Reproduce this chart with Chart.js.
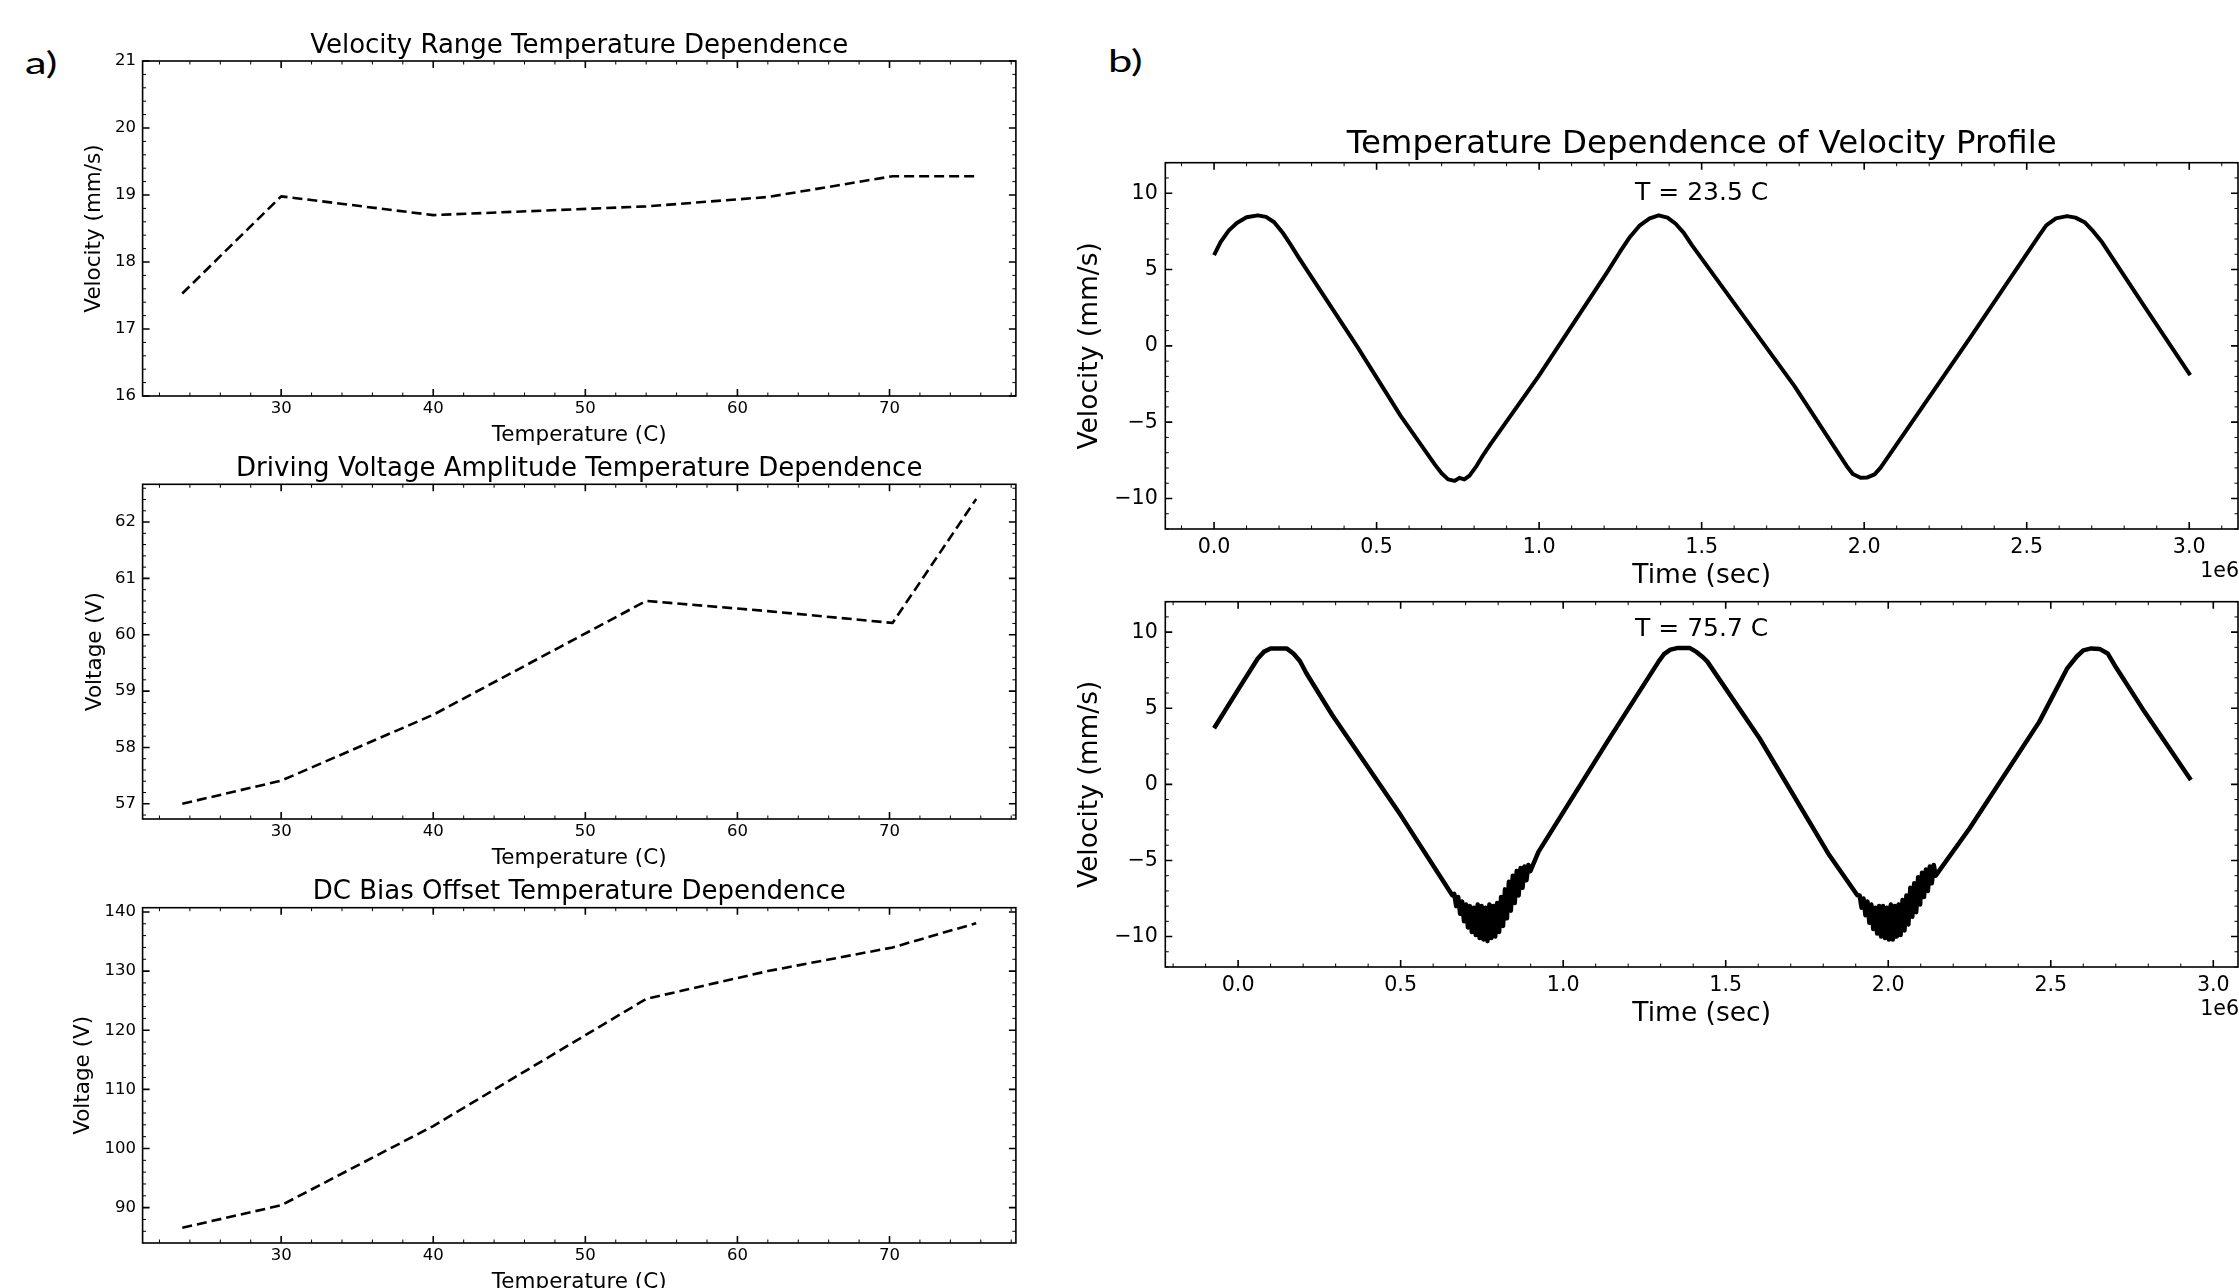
<!DOCTYPE html>
<html>
<head>
<meta charset="utf-8">
<script src="https://cdn.jsdelivr.net/npm/chart.js@4.4.1/dist/chart.umd.min.js"></script>
<style>
html, body { margin: 0; padding: 0; background: #fff; }
body { width: 2239px; height: 1288px; overflow: hidden; position: relative; }
canvas { position: absolute; }
.panel { position: absolute; font-family: Lato, 'Open Sans', sans-serif; font-size: 31px; line-height: 1; color: #000; transform: scaleX(1.4); transform-origin: left top; }
</style>
</head>
<body>
<div class="panel" style="left:25px; top:47px;">a)</div>
<div class="panel" style="left:1108px; top:45px;">b)</div>
<canvas id="c1"></canvas>
<canvas id="c2"></canvas>
<canvas id="c3"></canvas>
<canvas id="r1"></canvas>
<canvas id="r2"></canvas>
<script>
// ---------------- data ----------------
const temperatures   = [23.5, 30, 40, 54, 62, 70.2, 75.7];
const velocityRange  = [17.53, 18.98, 18.70, 18.83, 18.97, 19.28, 19.28];
const drivingVoltage = [57.00, 57.41, 58.58, 60.60, 60.42, 60.21, 62.41];
const dcBiasOffset   = [86.6, 90.4, 103.8, 125.3, 130.0, 134.0, 138.1];

const tempTicks     = [30, 40, 50, 60, 70];
const velRangeTicks = [16, 17, 18, 19, 20, 21];
const drvTicks      = [57, 58, 59, 60, 61, 62];
const dcTicks       = [90, 100, 110, 120, 130, 140];
const timeTicks     = [0, 0.5, 1.0, 1.5, 2.0, 2.5, 3.0];
const profileTicks  = [-10, -5, 0, 5, 10];

// velocity profile at T = 23.5 C (time in units of 1e6)
const time235 = [0.000, 0.020, 0.045, 0.070, 0.100, 0.135, 0.160, 0.185, 0.210, 0.235,
  0.260, 0.439, 0.574, 0.680, 0.700, 0.720, 0.740, 0.755, 0.770, 0.786,
  0.805, 0.825, 0.850, 0.998, 1.209, 1.250, 1.280, 1.310, 1.340, 1.368,
  1.395, 1.420, 1.445, 1.470, 1.785, 1.946, 1.965, 1.989, 2.010, 2.032,
  2.050, 2.075, 2.323, 2.538, 2.560, 2.590, 2.624, 2.650, 2.678, 2.705,
  2.732, 2.861, 3.003];
const vel235 = [5.95, 6.80, 7.55, 8.05, 8.42, 8.55, 8.45, 8.10, 7.45, 6.65,
  5.80, 0.00, -4.59, -7.80, -8.35, -8.75, -8.85, -8.65, -8.75, -8.50,
  -7.95, -7.25, -6.45, -2.00, 4.82, 6.20, 7.15, 7.90, 8.35, 8.55,
  8.40, 8.00, 7.40, 6.60, -2.62, -7.87, -8.40, -8.64, -8.62, -8.42,
  -8.00, -7.22, 0.44, 7.22, 7.90, 8.35, 8.50, 8.40, 8.10, 7.50,
  6.78, 2.62, -1.92];

// velocity profile at T = 75.7 C (time in units of 1e6), noisy near the minima
const time757 = [
  -0.074, 0.003, 0.060, 0.080, 0.100, 0.150, 0.170, 0.190, 0.210, 0.289, 0.500, 0.659,
  0.665, 0.671, 0.677, 0.683, 0.689, 0.695, 0.701, 0.707, 0.713, 0.719,
  0.725, 0.731, 0.737, 0.743, 0.749, 0.755, 0.761, 0.767, 0.773, 0.779,
  0.785, 0.791, 0.797, 0.803, 0.809, 0.815, 0.821, 0.827, 0.833, 0.839,
  0.845, 0.851, 0.857, 0.863, 0.869, 0.875, 0.881, 0.887, 0.893, 0.899,
  0.924, 1.136, 1.294, 1.310, 1.330, 1.350, 1.390, 1.410, 1.430, 1.443, 1.604, 1.819, 1.905,
  1.912, 1.918, 1.924, 1.930, 1.936, 1.942, 1.948, 1.954, 1.960, 1.966,
  1.972, 1.978, 1.984, 1.990, 1.996, 2.002, 2.008, 2.014, 2.020, 2.026,
  2.032, 2.038, 2.044, 2.050, 2.056, 2.062, 2.068, 2.074, 2.080, 2.086,
  2.092, 2.098, 2.104, 2.110, 2.116, 2.122, 2.128, 2.134, 2.140, 2.146,
  2.250, 2.465, 2.550, 2.580, 2.600, 2.625, 2.650, 2.675, 2.702, 2.788, 2.931];
const vel757 = [
  3.69, 6.32, 8.25, 8.72, 8.92, 8.92, 8.60, 8.10, 7.30, 4.57, -2.02, -7.29,
  -7.2, -8.0, -7.4, -8.5, -7.7, -9.0, -7.9, -9.4, -8.0, -9.7,
  -8.1, -9.9, -7.9, -10.1, -8.0, -10.2, -8.1, -10.3, -7.9, -10.1,
  -8.0, -10.0, -7.8, -9.7, -7.4, -9.3, -6.9, -8.8, -6.4, -8.3,
  -6.0, -7.8, -5.7, -7.3, -5.5, -6.8, -5.4, -6.3, -5.3, -5.7,
  -4.44, 2.81, 8.08, 8.55, 8.85, 8.95, 8.95, 8.70, 8.35, 8.08, 3.03, -4.66, -7.29,
  -7.3, -8.1, -7.5, -8.6, -7.7, -9.1, -7.9, -9.5, -8.1, -9.8,
  -8.0, -10.0, -8.0, -10.1, -8.1, -10.2, -7.9, -10.2, -8.0, -10.0,
  -7.9, -9.9, -7.6, -9.6, -7.3, -9.2, -6.8, -8.7, -6.5, -8.4,
  -6.1, -7.9, -5.8, -7.4, -5.6, -7.0, -5.4, -6.5, -5.3, -6.0,
  -2.90, 4.12, 7.60, 8.40, 8.80, 8.93, 8.90, 8.60, 7.64, 4.78, 0.28];

// ---------------- rendering ----------------
Chart.defaults.font.family = "'DejaVu Sans', sans-serif";
Chart.defaults.color = '#000';

const framePlugin = {
  id: 'frame',
  afterDraw(chart, args, opts) {
    const { ctx, chartArea: a, scales } = chart;
    const xs = scales.x, ys = scales.y;
    ctx.save();
    ctx.strokeStyle = '#000';
    const tickX = (v, len, w) => {
      const p = xs.getPixelForValue(v);
      if (p < a.left - 0.5 || p > a.right + 0.5) return;
      ctx.lineWidth = w; ctx.beginPath();
      ctx.moveTo(p, a.bottom); ctx.lineTo(p, a.bottom - len);
      ctx.moveTo(p, a.top); ctx.lineTo(p, a.top + len);
      ctx.stroke();
    };
    const tickY = (v, len, w) => {
      const p = ys.getPixelForValue(v);
      if (p < a.top - 0.5 || p > a.bottom + 0.5) return;
      ctx.lineWidth = w; ctx.beginPath();
      ctx.moveTo(a.left, p); ctx.lineTo(a.left + len, p);
      ctx.moveTo(a.right, p); ctx.lineTo(a.right - len, p);
      ctx.stroke();
    };
    const minorLoop = (scale, fn) => {
      const maj = scale.ticks.map(t => t.value);
      const step = (maj[1] - maj[0]) / 5;
      for (let k = Math.ceil(scale.min / step - 1e-9); k * step <= scale.max + 1e-9; k++) {
        const v = k * step;
        if (maj.some(m => Math.abs(m - v) < step * 0.01)) continue;
        fn(v, opts.minorLen, opts.minorW);
      }
      maj.forEach(v => fn(v, opts.majorLen, opts.majorW));
    };
    minorLoop(xs, tickX);
    minorLoop(ys, tickY);
    ctx.lineWidth = opts.frameW;
    ctx.strokeRect(a.left, a.top, a.right - a.left, a.bottom - a.top);
    (opts.texts || []).forEach(t => {
      ctx.font = t.size + "px 'DejaVu Sans', sans-serif";
      ctx.fillStyle = '#000';
      ctx.textAlign = t.align;
      ctx.textBaseline = t.baseline;
      const x = t.align === 'right' ? a.right + (t.dx || 0) : (a.left + a.right) / 2;
      const y = (t.at === 'top' ? a.top : a.bottom) + t.dy;
      ctx.fillText(t.text, x, y);
    });
    ctx.restore();
  }
};

function makeChart(id, box, o) {
  const cv = document.getElementById(id);
  cv.width = box.w; cv.height = box.h;
  cv.style.left = box.x + 'px'; cv.style.top = box.y + 'px';
  cv.style.width = box.w + 'px'; cv.style.height = box.h + 'px';
  const tickList = arr => (s => { s.ticks = arr.map(v => ({ value: v })); });
  return new Chart(cv, {
    type: 'line',
    data: { datasets: [{ data: o.points, borderColor: '#000', borderWidth: o.lw, borderDash: o.dash, pointRadius: 0, tension: 0, fill: false, borderJoinStyle: 'round' }] },
    options: {
      responsive: false, animation: false, devicePixelRatio: 1,
      layout: { padding: { left: 0, top: o.padTop, right: o.padRight, bottom: 0 } },
      plugins: {
        legend: { display: false }, tooltip: { enabled: false },
        frame: { majorLen: 7, minorLen: 3.5, majorW: 1.6, minorW: 1, frameW: 1.6, texts: o.texts }
      },
      scales: {
        x: {
          type: 'linear', position: 'bottom', min: o.xMin, max: o.xMax,
          afterBuildTicks: tickList(o.xTicks), afterFit: s => { s.height = o.xAxisH; },
          ticks: { font: { size: o.tickSize, lineHeight: 1.2 }, padding: o.xTickPad, callback: o.xFmt, maxRotation: 0, autoSkip: false },
          grid: { display: true, drawOnChartArea: false, drawTicks: false },
          border: { display: false },
          title: { display: true, text: o.xTitle, font: { size: o.labelSize, lineHeight: 1.2 }, padding: { top: 0, bottom: o.xTitlePad } }
        },
        y: {
          type: 'linear', position: 'left', min: o.yMin, max: o.yMax,
          afterBuildTicks: tickList(o.yTicks), afterFit: s => { s.width = o.yAxisW; },
          ticks: { font: { size: o.tickSize, lineHeight: 1.2 }, padding: o.yTickPad, callback: o.yFmt, autoSkip: false },
          grid: { display: true, drawOnChartArea: false, drawTicks: false },
          border: { display: false },
          title: { display: true, text: o.yTitle, font: { size: o.labelSize, lineHeight: 1.2 }, padding: { top: o.yTitlePad, bottom: 0 } }
        }
      }
    },
    plugins: [framePlugin]
  });
}

const pts = (xs, ys) => xs.map((x, i) => ({ x: x, y: ys[i] }));
const intFmt = v => String(v);
const oneDec = v => v.toFixed(1);
const minusFmt = v => (v < 0 ? '\u2212' + Math.abs(v) : String(v));

// left column (a)
const leftCommon = {
  xMin: 20.89, xMax: 78.31, xTicks: tempTicks, xFmt: intFmt, yFmt: intFmt,
  lw: 2.6, dash: [10, 5], tickSize: 16.5, labelSize: 21.5,
  xAxisH: 60, xTickPad: 3, xTitlePad: 8, yAxisW: 142.6, yTickPad: 6.5,
  padRight: 1060 - 1015.9, xTitle: 'Temperature (C)'
};
makeChart('c1', { x: 0, y: 0, w: 1060, h: 456 }, Object.assign({}, leftCommon, {
  points: pts(temperatures, velocityRange), padTop: 61,
  yMin: 16, yMax: 21, yTicks: velRangeTicks, yTitle: 'Velocity (mm/s)', yTitlePad: 82,
  texts: [{ text: 'Velocity Range Temperature Dependence', size: 26, align: 'center', baseline: 'alphabetic', at: 'top', dy: -8.5 }]
}));
makeChart('c2', { x: 0, y: 423, w: 1060, h: 456 }, Object.assign({}, leftCommon, {
  points: pts(temperatures, drivingVoltage), padTop: 61.3,
  yMin: 56.73, yMax: 62.67, yTicks: drvTicks, yTitle: 'Voltage (V)', yTitlePad: 83,
  texts: [{ text: 'Driving Voltage Amplitude Temperature Dependence', size: 26, align: 'center', baseline: 'alphabetic', at: 'top', dy: -8.5 }]
}));
makeChart('c3', { x: 0, y: 847, w: 1060, h: 456 }, Object.assign({}, leftCommon, {
  points: pts(temperatures, dcBiasOffset), padTop: 60.7,
  yMin: 84.02, yMax: 140.72, yTicks: dcTicks, yTitle: 'Voltage (V)', yTitlePad: 70.7,
  texts: [{ text: 'DC Bias Offset Temperature Dependence', size: 26, align: 'center', baseline: 'alphabetic', at: 'top', dy: -8.5 }]
}));

// right column (b)
const rightCommon = {
  xTicks: timeTicks, xFmt: oneDec, yMin: -12, yMax: 12, yTicks: profileTicks, yFmt: minusFmt,
  dash: [], tickSize: 20.6, labelSize: 26.5,
  xAxisH: 70, xTickPad: 5.8, xTitlePad: 7, yAxisW: 105.3, yTickPad: 7.5, yTitlePad: 14,
  padRight: 1, padTop: 69.7, xTitle: 'Time (sec)', yTitle: 'Velocity (mm/s)'
};
makeChart('r1', { x: 1060, y: 93, w: 1179, h: 506 }, Object.assign({}, rightCommon, {
  points: pts(time235, vel235), lw: 4, xMin: -0.15, xMax: 3.15,
  texts: [
    { text: 'Temperature Dependence of Velocity Profile', size: 32.4, align: 'center', baseline: 'alphabetic', at: 'top', dy: -9.4 },
    { text: 'T = 23.5 C', size: 25, align: 'center', baseline: 'alphabetic', at: 'top', dy: 37.5 },
    { text: '1e6', size: 20.6, align: 'right', baseline: 'middle', at: 'bottom', dy: 42.7, dx: 1 }
  ]
}));
makeChart('r2', { x: 1060, y: 532, w: 1179, h: 505 }, Object.assign({}, rightCommon, {
  points: pts(time757, vel757), lw: 4.5, xMin: -0.224, xMax: 3.076,
  texts: [
    { text: 'T = 75.7 C', size: 25, align: 'center', baseline: 'alphabetic', at: 'top', dy: 33.8 },
    { text: '1e6', size: 20.6, align: 'right', baseline: 'middle', at: 'bottom', dy: 42.7, dx: 1 }
  ]
}));
</script>
</body>
</html>
